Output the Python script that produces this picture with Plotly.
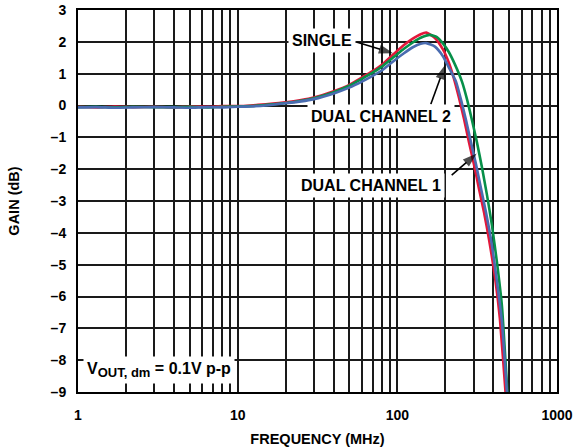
import plotly.graph_objects as go
import math

# ---------------- data ----------------
f_single = [1, 1.3, 1.7, 2.2, 3, 4, 5, 6.5, 8, 10, 12, 15, 20, 25, 30, 40, 50, 60, 70, 80, 95,
            110, 125, 140, 152, 172, 193, 210, 226, 243, 261, 281, 302, 324, 349, 375, 409,
            439, 476, 520]
g_single = [-0.04, -0.06, -0.03, -0.05, -0.04, -0.06, -0.03, -0.04, -0.02, -0.02, 0.0, 0.04, 0.1,
            0.17, 0.25, 0.45, 0.65, 0.88, 1.08, 1.28, 1.62, 1.9, 2.1, 2.24, 2.29, 2.12, 1.76,
            1.35, 0.85, 0.25, -0.4, -1.15, -1.85, -2.6, -3.35, -4.2, -5.4, -6.7, -9.0, -11.5]

f_ch2 = [1, 1.3, 1.7, 2.2, 3, 4, 5, 6.5, 8, 10, 12, 15, 20, 25, 30, 40, 50, 60, 70, 80, 95, 110,
         125, 140, 152, 172, 193, 210, 233, 250, 269, 289, 311, 334, 359, 386, 420, 452, 489, 530]
g_ch2 = [-0.06, -0.05, -0.07, -0.06, -0.05, -0.06, -0.07, -0.05, -0.06, -0.04, -0.03, 0.0, 0.07,
         0.13, 0.2, 0.38, 0.56, 0.75, 0.93, 1.1, 1.4, 1.64, 1.83, 1.94, 1.96, 1.85, 1.55, 1.2,
         0.75, 0.2, -0.45, -1.15, -1.85, -2.6, -3.35, -4.2, -5.5, -6.8, -9.2, -11.5]

f_ch1 = [1, 1.3, 1.7, 2.2, 3, 4, 5, 6.5, 8, 10, 12, 15, 20, 25, 30, 40, 50, 60, 70, 80, 95, 110,
         125, 140, 160, 177, 193, 210, 229, 254, 273, 293, 315, 339, 364, 391, 420, 452, 492, 535]
g_ch1 = [-0.05, -0.04, -0.06, -0.04, -0.05, -0.05, -0.04, -0.06, -0.04, -0.03, -0.02, 0.02, 0.08,
         0.15, 0.23, 0.42, 0.62, 0.84, 1.03, 1.22, 1.52, 1.78, 1.98, 2.13, 2.22, 2.15, 1.95,
         1.68, 1.3, 0.75, 0.2, -0.45, -1.15, -1.95, -2.8, -3.75, -4.9, -6.3, -9.2, -11.5]

# annotation arrows: (tail MHz, tail dB) -> (head MHz, head dB)
arrow_single = ([56, 94], [1.99, 1.64])
arrow_ch2 = ([162, 199], [0.04, 1.27])
arrow_ch1 = ([219, 314], [-2.19, -1.51])

x_grid_vals = [m * d for d in (1, 10, 100) for m in range(1, 10)] + [1000]
x_tick_text = [str(v) if v in (1, 10, 100, 1000) else "" for v in x_grid_vals]
y_tick_vals = list(range(-9, 4))
y_tick_text = [("\u2013" + str(-v)) if v < 0 else str(v) for v in y_tick_vals]

FONT = "Liberation Sans, Arial, sans-serif"

fig = go.Figure()
fig.add_trace(go.Scatter(x=f_single, y=g_single, mode="lines", name="SINGLE",
                         line=dict(color="#E3173A", width=2.6, shape="spline", smoothing=0.5)))
fig.add_trace(go.Scatter(x=f_ch1, y=g_ch1, mode="lines", name="DUAL CHANNEL 1",
                         line=dict(color="#079049", width=2.6, shape="spline", smoothing=0.5)))
fig.add_trace(go.Scatter(x=f_ch2, y=g_ch2, mode="lines", name="DUAL CHANNEL 2",
                         line=dict(color="#4A6CB0", width=2.6, shape="spline", smoothing=0.5)))

for ax_x, ax_y in (arrow_single, arrow_ch2, arrow_ch1):
    fig.add_trace(go.Scatter(x=ax_x, y=ax_y, mode="lines+markers", hoverinfo="skip",
                             line=dict(color="black", width=1.6),
                             marker=dict(symbol="arrow", angleref="previous", size=[0, 15],
                                         color="black", line=dict(width=0))))

annos = []
def lbl(text, x, y, xanchor="center", size=16):
    annos.append(dict(text=text, x=x, y=y, xref="x", yref="y", showarrow=False,
                      xanchor=xanchor, yanchor="middle", bgcolor="white", borderpad=3,
                      font=dict(family=FONT, size=size, color="black")))

lbl("<b>SINGLE</b>", math.log10(33.7), 2.05)
lbl("<b>DUAL CHANNEL 2</b>", math.log10(79.5), -0.36)
lbl("<b>DUAL CHANNEL 1</b>", math.log10(68.4), -2.52)
lbl("<b>V<sub><span style='font-size:13px'>OUT, dm</span></sub> = 0.1V p-p</b>",
    math.log10(1.07), -8.32, xanchor="left", size=16)

fig.update_layout(
    width=574, height=448,
    margin=dict(l=78, r=17, t=10, b=56),
    paper_bgcolor="white", plot_bgcolor="white",
    showlegend=False,
    font=dict(family=FONT, size=14, color="black"),
    annotations=annos,
    xaxis=dict(type="log", range=[0, 3], tickvals=x_grid_vals, ticktext=x_tick_text,
               automargin=False,
               showgrid=True, gridcolor="#1a1a1a", gridwidth=1.5,
               showline=True, linecolor="black", linewidth=2, mirror=True,
               ticks="", ticklabelstandoff=9,
               tickfont=dict(family=FONT, size=14, color="black", weight="bold"),
               title=dict(text="<b>FREQUENCY (MHz)</b>", standoff=12,
                          font=dict(family=FONT, size=14.5, color="black"))),
    yaxis=dict(range=[-9, 3], tickvals=y_tick_vals, ticktext=y_tick_text,
               automargin=False,
               showgrid=True, gridcolor="#1a1a1a", gridwidth=1.5, zeroline=False,
               showline=True, linecolor="black", linewidth=2, mirror=True,
               ticks="", ticklabelstandoff=7,
               tickfont=dict(family=FONT, size=14, color="black", weight="bold"),
               title=dict(text="<b>GAIN (dB)</b>", standoff=28,
                          font=dict(family=FONT, size=14.5, color="black"))),
)

fig.write_html("out.html")
